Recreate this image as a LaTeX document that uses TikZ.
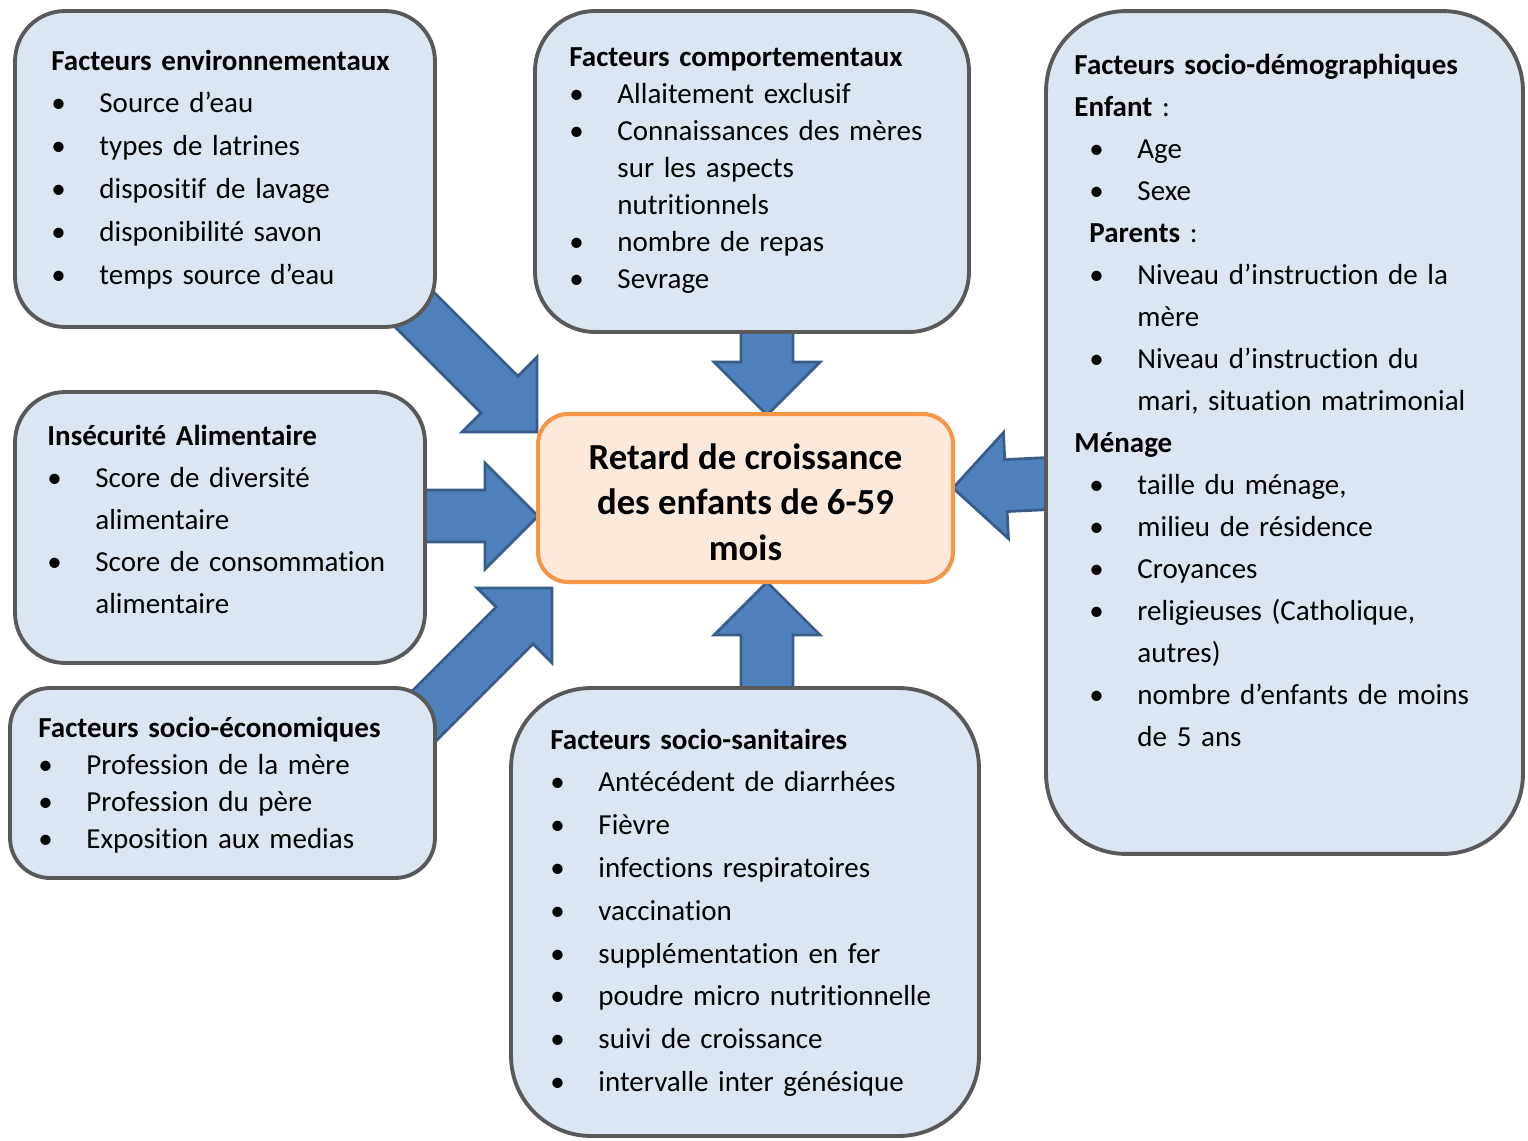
\documentclass[tikz,border=0pt]{standalone}
\usepackage{fontspec}
\setmainfont{Carlito}[Ligatures={NoCommon}]
\usetikzlibrary{calc,backgrounds}
\definecolor{boxblue}{HTML}{DCE6F2}
\definecolor{boxgray}{HTML}{595959}
\definecolor{peach}{HTML}{FDE9D9}
\definecolor{orangeline}{HTML}{F79646}
\definecolor{arrowblue}{HTML}{4F81BD}
\definecolor{arrowedge}{HTML}{385D8A}
\newcommand{\bul}{\makebox[0.96cm][l]{•}}
\newcommand{\ind}{\hspace*{0.96cm}}
\newcommand{\sub}{\hspace*{0.3cm}}
% block arrow from tail #1 to tip #2
\newcommand{\blockarrow}[2]{%
  \coordinate (ab) at ($(#2)!1.06cm!(#1)$);
  \draw[blockarr] ($(#1)!0.52cm!90:(#2)$) -- ($(ab)!0.52cm!90:(#2)$) -- ($(ab)!1.06cm!90:(#2)$) -- (#2)
    -- ($(ab)!1.06cm!-90:(#2)$) -- ($(ab)!0.52cm!-90:(#2)$) -- ($(#1)!0.52cm!-90:(#2)$) -- cycle;}
\tikzset{
  factbox/.style={draw=boxgray,line width=2.2pt,fill=boxblue,rounded corners=1cm,inner sep=0pt},
  facttext/.style={anchor=base west,inner sep=0pt,text width=9cm,align=left},
  blockarr/.style={draw=arrowedge,line width=1.6pt,fill=arrowblue,line join=miter}
}
\begin{document}
\begin{tikzpicture}[x=0.02cm,y=-0.02cm]
  \useasboundingbox (0,0) rectangle (1528,1140);
  % factor boxes
  \node[factbox,minimum width=8.4cm,minimum height=6.32cm] (env) at (225,169) {};
  \node[factbox,rounded corners=1.2cm,minimum width=8.68cm,minimum height=6.42cm] (comp) at (752,171.5) {};
  \node[factbox,rounded corners=1.6cm,minimum width=9.54cm,minimum height=16.86cm] (demo) at (1284.5,432.5) {};
  \node[factbox,minimum width=8.2cm,minimum height=5.42cm] (alim) at (220,527.5) {};
  \node[factbox,rounded corners=0.8cm,minimum width=8.5cm,minimum height=3.8cm] (eco) at (222.5,783) {};
  \node[factbox,rounded corners=1.6cm,minimum width=9.36cm,minimum height=8.96cm] (sani) at (745,912) {};
  % outcome
  \node[draw=orangeline,line width=2.3pt,fill=peach,rounded corners=0.6cm,minimum width=8.3cm,minimum height=3.36cm] (retard) at (745.5,498) {};
  \node[align=center,inner sep=0pt,font=\bfseries\fontsize{20.9pt}{25.9pt}\selectfont] (retardtxt) at ($(retard.center)+(0,4)$)
    {Retard de croissance\\des enfants de 6-59\\mois};
  % texts
  \node[facttext,font=\fontsize{16.5pt}{24.35pt}\selectfont] (envtxt) at ($(env.north west)+(38,61)$)
    {\textbf{Facteurs environnementaux}\\\bul Source d’eau\\\bul types de latrines\\\bul dispositif de lavage\\\bul disponibilité savon\\\bul temps source d’eau};
  \node[facttext,font=\fontsize{16.5pt}{21.05pt}\selectfont] (comptxt) at ($(comp.north west)+(36,57)$)
    {\textbf{Facteurs comportementaux}\\\bul Allaitement exclusif\\\bul Connaissances des mères\\\ind sur les aspects\\\ind nutritionnels\\\bul nombre de repas\\\bul Sevrage};
  \node[facttext,font=\fontsize{16.5pt}{23.9pt}\selectfont] (demotxt) at ($(demo.north west)+(30,65)$)
    {\textbf{Facteurs socio-démographiques}\\\textbf{Enfant} :\\\sub\bul Age\\\sub\bul Sexe\\\sub\textbf{Parents} :\\
     \sub\bul Niveau d’instruction de la\\\sub\ind mère\\\sub\bul Niveau d’instruction du\\\sub\ind mari, situation matrimonial\\
     \textbf{Ménage}\\\sub\bul taille du ménage,\\\sub\bul milieu de résidence\\\sub\bul Croyances\\\sub\bul religieuses (Catholique,\\\sub\ind autres)\\
     \sub\bul nombre d’enfants de moins\\\sub\ind de 5 ans};
  \node[facttext,font=\fontsize{16.5pt}{23.9pt}\selectfont] (alimtxt) at ($(alim.north west)+(34,55)$)
    {\textbf{Insécurité Alimentaire}\\\bul Score de diversité\\\ind alimentaire\\\bul Score de consommation\\\ind alimentaire};
  \node[facttext,font=\fontsize{16.5pt}{21.2pt}\selectfont] (ecotxt) at ($(eco.north west)+(30,51)$)
    {\textbf{Facteurs socio-économiques}\\\bul Profession de la mère\\\bul Profession du père\\\bul Exposition aux medias};
  \node[facttext,font=\fontsize{16.5pt}{24.35pt}\selectfont] (sanitxt) at ($(sani.north west)+(41,63)$)
    {\textbf{Facteurs socio-sanitaires}\\\bul Antécédent de diarrhées\\\bul Fièvre\\\bul infections respiratoires\\\bul vaccination\\
     \bul supplémentation en fer\\\bul poudre micro nutritionnelle\\\bul suivi de croissance\\\bul intervalle inter génésique};
  % arrow ends
  \coordinate (t1) at (400,295);  \coordinate (h1) at (537,432);
  \coordinate (t2) at (767,320);  \coordinate (h2) at (767,415);
  \coordinate (t3) at (1060,483); \coordinate (h3) at (953,488);
  \coordinate (t4) at (415,516);  \coordinate (h4) at (538,516);
  \coordinate (t5) at (412,728);  \coordinate (h5) at (552,588);
  \coordinate (t6) at (767,700);  \coordinate (h6) at (767,582);
  \begin{scope}[on background layer]
    \blockarrow{t1}{h1}
    \blockarrow{t2}{h2}
    \blockarrow{t3}{h3}
    \blockarrow{t4}{h4}
    \blockarrow{t5}{h5}
    \blockarrow{t6}{h6}
  \end{scope}
\end{tikzpicture}
\end{document}
